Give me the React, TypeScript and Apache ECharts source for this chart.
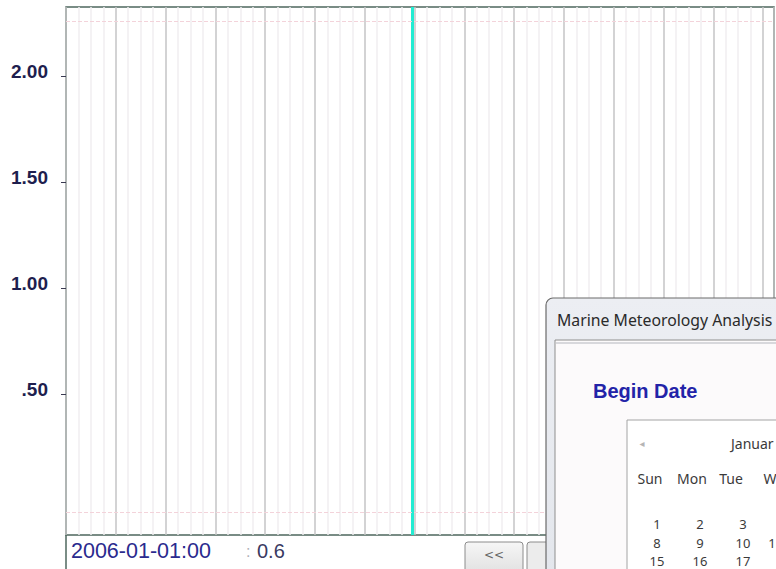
import React, { useEffect, useRef } from "react";
import * as echarts from "echarts";

// ---- data ----
const Y_TICK_VALUES = [0.5, 1.0, 1.5, 2.0];
const Y_TICK_LABELS = [".50", "1.00", "1.50", "2.00"];
const Y_MIN = -0.165;
const Y_MAX = 2.325;
const X_MIN = 0;
const X_MAX = 14.22;
const X_INTERVAL = 1;
const CURSOR_X = 6.95;
const CURSOR_TIME = "2006-01-01:00";
const CURSOR_VALUE = 0.6;
const GUIDE_LINES = [2.264, -0.06];
const DIALOG_TITLE = "Marine Meteorology Analysis";
const DIALOG_LABEL = "Begin Date";
const CAL_MONTH = "Januar"; // visible part of "January 2006"
const WEEKDAYS = ["Sun", "Mon", "Tue", "W"]; // "Wed" cut by the window edge
const CAL_ROWS = [
  ["1", "2", "3"],
  ["8", "9", "10", "1"],
  ["15", "16", "17"],
];

export default function App() {
  const ref = useRef<HTMLDivElement>(null);
  useEffect(() => {
    if (!ref.current) return;
    const chart = echarts.init(ref.current, null, { renderer: "svg" });

    const calFont = '14px "Noto Sans", "DejaVu Sans", sans-serif';
    const numFont = '13px "Noto Sans", "DejaVu Sans", sans-serif';
    const dayCenters = [650, 692, 731, 770];
    const numCenters = [657, 700, 743, 772];
    const rowY = [524, 543, 561];

    const calTexts: any[] = [];
    WEEKDAYS.forEach((d, i) => {
      calTexts.push({
        type: "text",
        x: dayCenters[i],
        y: 478,
        style: { text: d, font: calFont, fill: "#3a3a3a", align: "center", verticalAlign: "middle" },
      });
    });
    CAL_ROWS.forEach((row, r) => {
      row.forEach((n, c) => {
        calTexts.push({
          type: "text",
          x: numCenters[c],
          y: rowY[r],
          style: { text: n, font: numFont, fill: "#3a3a3a", align: "center", verticalAlign: "middle", lineHeight: 15 },
        });
      });
    });

    chart.setOption({
      animation: false,
      backgroundColor: "#ffffff",
      grid: {
        left: 66,
        top: 7,
        right: 2,
        bottom: 34,
        show: true,
        borderColor: "#4e675e",
        borderWidth: 1.5,
        backgroundColor: "transparent",
      },
      xAxis: {
        type: "value",
        min: X_MIN,
        max: X_MAX,
        interval: X_INTERVAL,
        axisLabel: { show: false },
        axisTick: { show: false },
        axisLine: { show: false },
        splitLine: { show: true, lineStyle: { color: "#c4c4c6", width: 1.5 } },
        minorTick: { show: false, splitNumber: 4 },
        minorSplitLine: { show: true, lineStyle: { color: "#f1eef0", width: 1.5 } },
      },
      yAxis: {
        type: "value",
        min: Y_MIN,
        max: Y_MAX,
        axisLine: { show: false },
        splitLine: { show: false },
        axisTick: {
          show: true,
          customValues: Y_TICK_VALUES,
          length: 5,
          lineStyle: { color: "#3a3a50", width: 1 },
        },
        axisLabel: {
          customValues: Y_TICK_VALUES,
          formatter: (v: number) => {
            const i = Y_TICK_VALUES.findIndex((t) => Math.abs(t - v) < 1e-6);
            return i >= 0 ? Y_TICK_LABELS[i] : "";
          },
          margin: 18,
          color: "#1e1e4e",
          fontWeight: "bold",
          fontSize: 19,
          fontFamily: '"Liberation Sans", Arial, sans-serif',
          verticalAlign: "bottom",
          lineHeight: 8,
        },
      },
      series: [
        {
          type: "line",
          data: [[CURSOR_X, CURSOR_VALUE]],
          showSymbol: false,
          lineStyle: { opacity: 0 },
          silent: true,
          markLine: {
            silent: true,
            symbol: "none",
            label: { show: false },
            data: [
              { xAxis: CURSOR_X, lineStyle: { color: "#22ecd2", width: 3, type: "solid" } },
              ...GUIDE_LINES.map((v) => ({
                yAxis: v,
                lineStyle: { color: "#f3d3da", width: 1, type: "dashed" },
              })),
            ],
          },
        },
      ],
      graphic: [
        // left frame line continuing below the plot
        { type: "line", shape: { x1: 66, y1: 535, x2: 66, y2: 569 }, style: { stroke: "#4e675e", lineWidth: 1.5 } },
        // readout
        {
          type: "text",
          x: 71,
          y: 551,
          style: {
            text: CURSOR_TIME,
            font: '21.5px "Liberation Sans", Arial, sans-serif',
            fill: "#2a2a8e",
            verticalAlign: "middle",
          },
        },
        {
          type: "text",
          x: 246,
          y: 551,
          style: { text: ":", font: '16px "Liberation Sans", Arial, sans-serif', fill: "#b0b0b8", verticalAlign: "middle" },
        },
        {
          type: "text",
          x: 257,
          y: 551,
          style: {
            text: String(CURSOR_VALUE),
            font: '20px "Liberation Sans", Arial, sans-serif',
            fill: "#3a3a62",
            verticalAlign: "middle",
          },
        },
        // buttons
        {
          type: "rect",
          shape: { x: 465, y: 542, width: 58, height: 30, r: 3 },
          style: {
            fill: new echarts.graphic.LinearGradient(0, 0, 0, 1, [
              { offset: 0, color: "#f6f6f6" },
              { offset: 1, color: "#e2e2e2" },
            ]),
            stroke: "#8c8c8c",
            lineWidth: 1,
          },
        },
        {
          type: "text",
          x: 494,
          y: 555,
          style: { text: "<<", font: '12px "DejaVu Sans", sans-serif', fill: "#666", align: "center", verticalAlign: "middle" },
        },
        {
          type: "rect",
          shape: { x: 527, y: 542, width: 40, height: 30, r: 3 },
          style: { fill: "#ececec", stroke: "#8c8c8c", lineWidth: 1 },
        },
        // dialog window
        {
          type: "rect",
          z: 100,
          shape: { x: 546, y: 298, width: 250, height: 290, r: 7 },
          style: {
            fill: new echarts.graphic.LinearGradient(0, 0, 0, 1, [
              { offset: 0, color: "#eceef3" },
              { offset: 1, color: "#e3e6ec" },
            ]),
            stroke: "#6a6a6a",
            lineWidth: 1.2,
          },
        },
        {
          type: "text",
          z: 101,
          x: 557,
          y: 320,
          style: {
            text: DIALOG_TITLE,
            font: '15.8px "Noto Sans", "DejaVu Sans", sans-serif',
            fill: "#2a2a2a",
            verticalAlign: "middle",
          },
        },
        {
          type: "rect",
          z: 101,
          shape: { x: 555, y: 340, width: 240, height: 250 },
          style: { fill: "#fcfafb", stroke: "#8e8e8e", lineWidth: 1 },
        },
        {
          type: "rect",
          z: 101,
          shape: { x: 556, y: 342, width: 238, height: 2 },
          style: { fill: "#d8d8dc" },
        },
        {
          type: "text",
          z: 102,
          x: 593,
          y: 391,
          style: {
            text: DIALOG_LABEL,
            font: 'bold 20px "Liberation Sans", Arial, sans-serif',
            fill: "#2323a8",
            verticalAlign: "middle",
          },
        },
        {
          type: "rect",
          z: 102,
          shape: { x: 627, y: 420, width: 200, height: 200 },
          style: { fill: "#ffffff", stroke: "#a4a4a4", lineWidth: 1 },
        },
        {
          type: "text",
          z: 103,
          x: 642,
          y: 443,
          style: { text: "◂", font: '10px "DejaVu Sans", sans-serif', fill: "#b5b5b5", align: "center", verticalAlign: "middle" },
        },
        {
          type: "text",
          z: 103,
          x: 731,
          y: 443,
          style: { text: CAL_MONTH, font: calFont, fill: "#3a3a3a", verticalAlign: "middle" },
        },
        ...calTexts.map((t) => ({ ...t, z: 103 })),
      ],
    });
    return () => chart.dispose();
  }, []);
  return (
    <div
      ref={ref}
      style={{ position: "absolute", left: 0, top: 0, width: 776, height: 569 }}
    />
  );
}
